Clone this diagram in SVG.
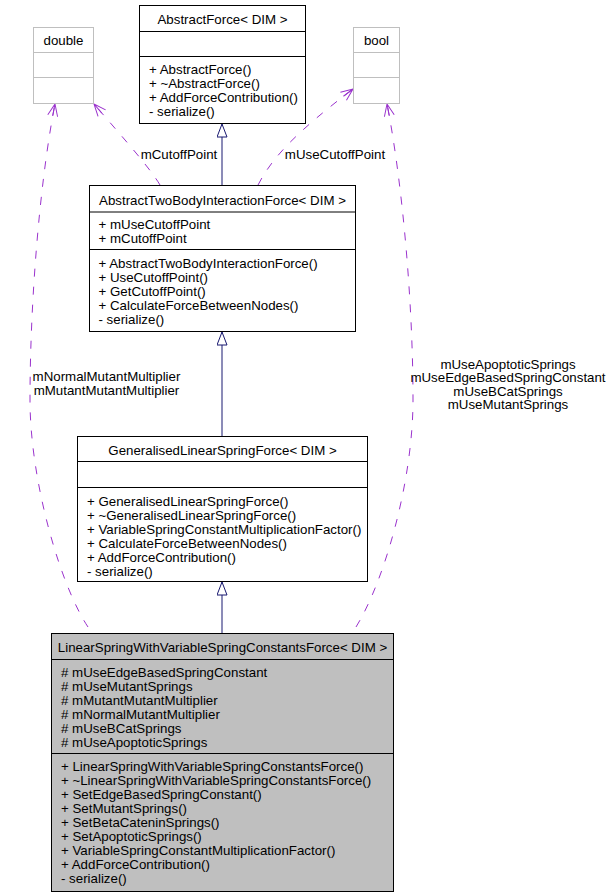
<svg xmlns="http://www.w3.org/2000/svg" width="607" height="896" viewBox="0 0 607 896">
<style>
text{font-family:"Liberation Sans",Arial,sans-serif;font-size:13.3px;fill:#000}
.c{text-anchor:middle}
.box{fill:#fff;stroke:#000;stroke-width:1}
.gbox{fill:#fff;stroke:#bfbfbf;stroke-width:1}
.sel{fill:#bfbfbf;stroke:#000;stroke-width:1}
.inh{fill:none;stroke:#191970;stroke-width:1;marker-end:url(#tri)}
.use{fill:none;stroke:#9a32cd;stroke-width:1;stroke-dasharray:8,10;marker-end:url(#vee)}
</style>
<defs>
<marker id="tri" markerUnits="userSpaceOnUse" markerWidth="16" markerHeight="14" refX="13.5" refY="5.5" orient="auto">
<path d="M0.5,0.5 L13.5,5.5 L0.5,10.5 Z" fill="#fff" stroke="#191970" stroke-width="1"/>
</marker>
<marker id="vee" markerUnits="userSpaceOnUse" markerWidth="16" markerHeight="14" refX="13" refY="6" orient="auto">
<path d="M1,1 L13,6 L1,11 M13,6 L1,6" fill="none" stroke="#9a32cd" stroke-width="1"/>
</marker>
</defs>
<g id="connectors">
<path class="inh" d="M222,185.5 L222,124"/>
<path class="inh" d="M222,436.5 L222,332"/>
<path class="inh" d="M222,633.5 L222,582"/>
<path class="use" d="M160,185 C150,168 125,140 94,104"/>
<path class="use" d="M258,185 C272,158 295,133 353,89"/>
<path class="use" d="M88,627 C60,585 30,480 30,400 C30,300 40,180 55,104"/>
<path class="use" d="M356,627 C385,580 413,480 413,400 C413,300 402,180 387,104"/>
<text class="c" x="179" y="158.5">mCutoffPoint</text>
<text class="c" x="335" y="158.5">mUseCutoffPoint</text>
<text class="c" x="106.5" y="380.5">mNormalMutantMultiplier</text>
<text class="c" x="106.5" y="395">mMutantMutantMultiplier</text>
<text class="c" x="508" y="368.5">mUseApoptoticSprings</text>
<text class="c" x="508" y="382">mUseEdgeBasedSpringConstant</text>
<text class="c" x="508" y="395.5">mUseBCatSprings</text>
<text class="c" x="508" y="409">mUseMutantSprings</text>
</g>
<g id="double">
<rect class="gbox" x="33.5" y="27.5" width="60" height="76"/>
<path d="M33.5,52.5 H93.5 M33.5,77.5 H93.5" stroke="#bfbfbf"/>
<text class="c" x="63.5" y="45">double</text>
</g>
<g id="bool">
<rect class="gbox" x="353.5" y="27.5" width="46" height="76"/>
<path d="M353.5,52.5 H399.5 M353.5,77.5 H399.5" stroke="#bfbfbf"/>
<text class="c" x="376.5" y="45">bool</text>
</g>
<g id="AbstractForce">
<rect class="box" x="139.5" y="5.5" width="166" height="118"/>
<path d="M139.5,31.5 H305.5 M139.5,56.5 H305.5" stroke="#000"/>
<text class="c" x="222.5" y="24">AbstractForce&lt; DIM &gt;</text>
<text x="149" y="73.5">+ AbstractForce()</text>
<text x="149" y="87.5">+ ~AbstractForce()</text>
<text x="149" y="101.5">+ AddForceContribution()</text>
<text x="149" y="115.5">- serialize()</text>
</g>
<g id="AbstractTwoBodyInteractionForce">
<rect class="box" x="89.5" y="185.5" width="266" height="146"/>
<path d="M89.5,212 H355.5 M89.5,249.5 H355.5" stroke="#000"/>
<text class="c" x="222.5" y="204.5">AbstractTwoBodyInteractionForce&lt; DIM &gt;</text>
<text x="98.5" y="228.5">+ mUseCutoffPoint</text>
<text x="98.5" y="243">+ mCutoffPoint</text>
<text x="98.5" y="268">+ AbstractTwoBodyInteractionForce()</text>
<text x="98.5" y="282">+ UseCutoffPoint()</text>
<text x="98.5" y="296">+ GetCutoffPoint()</text>
<text x="98.5" y="310">+ CalculateForceBetweenNodes()</text>
<text x="98.5" y="324">- serialize()</text>
</g>
<g id="GeneralisedLinearSpringForce">
<rect class="box" x="77.5" y="436.5" width="290" height="145"/>
<path d="M77.5,461.5 H367.5 M77.5,487.5 H367.5" stroke="#000"/>
<text class="c" x="222.5" y="454.5">GeneralisedLinearSpringForce&lt; DIM &gt;</text>
<text x="87" y="505.5">+ GeneralisedLinearSpringForce()</text>
<text x="87" y="519.5">+ ~GeneralisedLinearSpringForce()</text>
<text x="87" y="533.5">+ VariableSpringConstantMultiplicationFactor()</text>
<text x="87" y="547.5">+ CalculateForceBetweenNodes()</text>
<text x="87" y="561.5">+ AddForceContribution()</text>
<text x="87" y="575.5">- serialize()</text>
</g>
<g id="LinearSpringWithVariableSpringConstantsForce">
<rect class="sel" x="51.5" y="633.5" width="342" height="258"/>
<path d="M51.5,659.5 H393.5 M51.5,753.5 H393.5" stroke="#000"/>
<text class="c" x="222.5" y="652">LinearSpringWithVariableSpringConstantsForce&lt; DIM &gt;</text>
<text x="61" y="676.5"># mUseEdgeBasedSpringConstant</text>
<text x="61" y="690.5"># mUseMutantSprings</text>
<text x="61" y="704.5"># mMutantMutantMultiplier</text>
<text x="61" y="718.5"># mNormalMutantMultiplier</text>
<text x="61" y="732.5"># mUseBCatSprings</text>
<text x="61" y="746.5"># mUseApoptoticSprings</text>
<text x="61" y="770.5">+ LinearSpringWithVariableSpringConstantsForce()</text>
<text x="61" y="784.5">+ ~LinearSpringWithVariableSpringConstantsForce()</text>
<text x="61" y="798.5">+ SetEdgeBasedSpringConstant()</text>
<text x="61" y="812.5">+ SetMutantSprings()</text>
<text x="61" y="826.5">+ SetBetaCateninSprings()</text>
<text x="61" y="840.5">+ SetApoptoticSprings()</text>
<text x="61" y="854.5">+ VariableSpringConstantMultiplicationFactor()</text>
<text x="61" y="868.5">+ AddForceContribution()</text>
<text x="61" y="882.5">- serialize()</text>
</g>
</svg>
